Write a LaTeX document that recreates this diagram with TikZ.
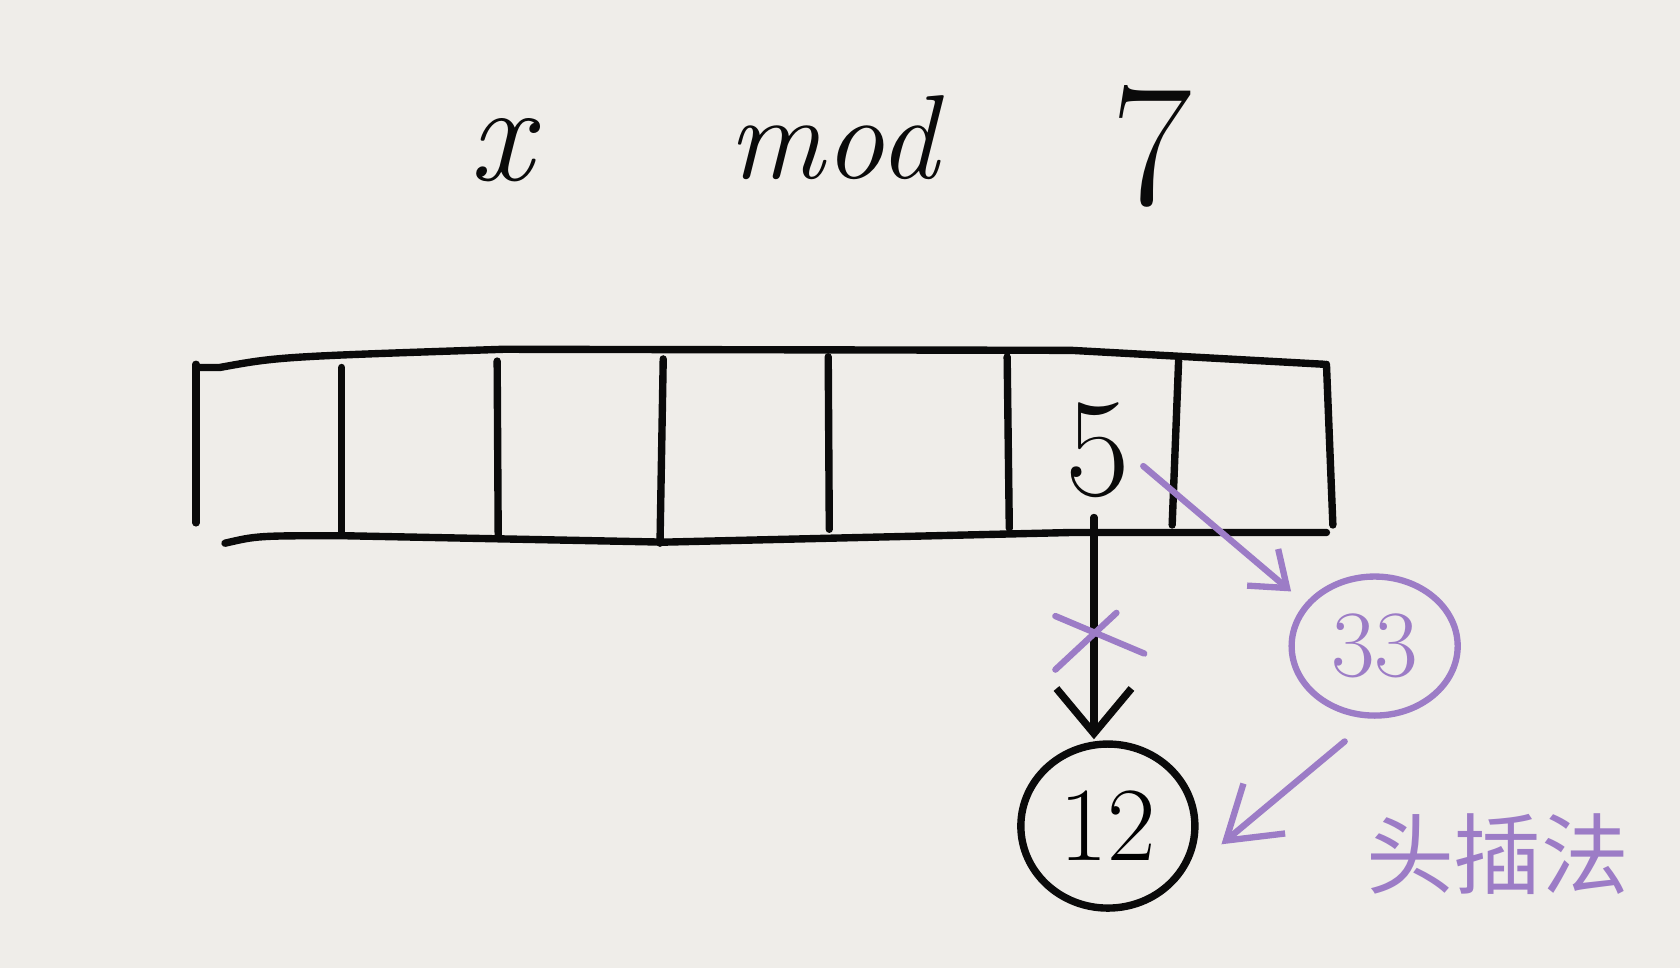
\documentclass[tikz,border=0pt]{standalone}
\usepackage{fontspec}
\newfontfamily\cjk{Noto Sans CJK SC}
\usetikzlibrary{arrows.meta,shapes.geometric}
\definecolor{paper}{RGB}{239,237,233}
\definecolor{ink}{RGB}{10,10,10}
\definecolor{lilac}{RGB}{156,124,198}
\tikzset{
  inkline/.style={draw=ink,line width=2.1pt,line cap=round,line join=round},
  lilacline/.style={draw=lilac,line width=1.8pt,line cap=round,line join=round},
  hand/.style={inner sep=0pt,text=ink,font=\itshape},
  listnode/.style={ellipse,inkline},
}
\begin{document}
\begin{tikzpicture}[x=0.010714cm,y=-0.010714cm]
\fill[paper] (0,0) rectangle (1568,903);
\useasboundingbox (0,0) rectangle (1568,903);
% title
\node[hand,font=\itshape\fontsize{40}{44}\selectfont] (tx) at (468,140) {x};
\node[hand,font=\itshape\fontsize{34}{38}\selectfont] (tmod) at (778,128) {mod};
\node[hand,font=\fontsize{50}{54}\selectfont] (tseven) at (1075,137) {7};
% array
\draw[inkline] (183,343) -- (205,343) .. controls (260,333) .. (470,326) -- (1000,327) -- (1236,340);
\draw[inkline] (210,507) .. controls (240,500) .. (320,500) -- (620,506) -- (1000,497) -- (1238,497);
\draw[inkline] (183,340) -- (183,488);
\draw[inkline] (319,343) -- (319,497);
\draw[inkline] (464,337) -- (465,502);
\draw[inkline] (619,335) -- (616,507);
\draw[inkline] (773,333) -- (774,494);
\draw[inkline] (940,333) -- (942,493);
\draw[inkline] (1100,337) -- (1094,490);
\draw[inkline] (1238,340) -- (1244,490);
% nodes
\node[hand,font=\fontsize{40}{44}\selectfont] (n5) at (1025,420) {5};
\node[listnode,minimum width=1.74cm,minimum height=1.64cm,inner sep=0pt,font=\fontsize{30}{34}\selectfont] (n12) at (1034,771) {12};
\node[ellipse,lilacline,text=lilac,minimum width=1.66cm,minimum height=1.39cm,inner sep=0pt,font=\fontsize{27}{30}\selectfont] (n33) at (1283,603) {33};
\coordinate (start) at (1021,483);
\coordinate (tip12) at (1021,690);
\coordinate (tipside) at (1140,788);
\coordinate (tip33) at (1205,552);
\coordinate (from5) at (1067,435);
\coordinate (from33) at (1255,692);
% black link
\draw[inkline,-{Straight Barb[length=0.45cm,width=0.75cm,line width=2.1pt]}] (start) -- (tip12);
% cross mark
\draw[lilacline] (985,575) -- (1068,610);
\draw[lilacline] (985,625) -- (1042,572);
% purple arrows
\draw[lilacline,-{Straight Barb[length=0.32cm,width=0.48cm,line width=1.8pt]}] (from5) -- (tip33);
\draw[lilacline,-{Straight Barb[length=0.5cm,width=0.65cm,line width=1.8pt]}] (from33) -- (tipside);
% label
\node[inner sep=0pt,text=lilac,font=\cjk\fontsize{25}{28}\selectfont] (lbl) at (1398,797) {头插法};
\end{tikzpicture}
\end{document}
